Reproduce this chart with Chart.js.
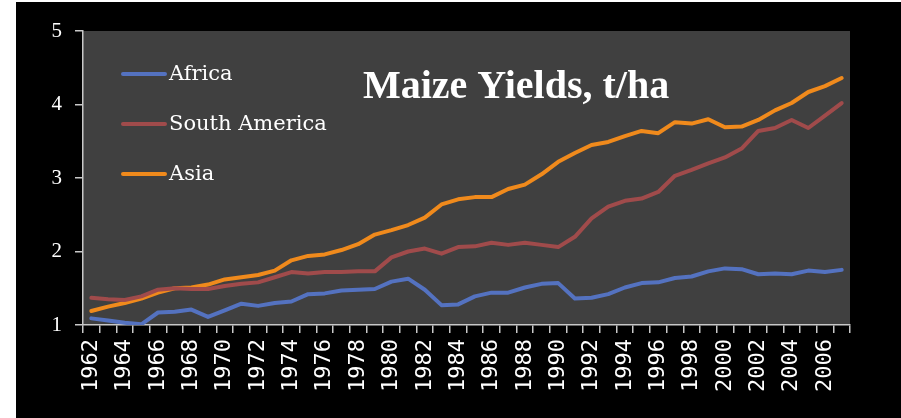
<!DOCTYPE html>
<html>
<head>
<meta charset="utf-8">
<script src="https://cdn.jsdelivr.net/npm/chart.js@4/dist/chart.umd.min.js"></script>
<style>
    html, body { margin: 0; padding: 0; background: #fff; }
    #wrap { position: absolute; left: 16px; top: 2px; width: 885px; height: 416px; background: #000; }
</style>
</head>
<body>
<div id="wrap"><canvas id="myChart" width="885" height="416"></canvas></div>
<script>
const years = [
    '1962', '1963', '1964', '1965', '1966', '1967', '1968', '1969', '1970', '1971',
    '1972', '1973', '1974', '1975', '1976', '1977', '1978', '1979', '1980', '1981',
    '1982', '1983', '1984', '1985', '1986', '1987', '1988', '1989', '1990', '1991',
    '1992', '1993', '1994', '1995', '1996', '1997', '1998', '1999', '2000', '2001',
    '2002', '2003', '2004', '2005', '2006', '2007'
];

// tick labels shown under the x axis (every other year)
const tickLabels = [
    '1962', '1964', '1966', '1968', '1970', '1972', '1974', '1976', '1978', '1980',
    '1982', '1984', '1986', '1988', '1990', '1992', '1994', '1996', '1998', '2000',
    '2002', '2004', '2006'
];

const africa = [
    1.09, 1.06, 1.03, 1.01, 1.17, 1.18, 1.21, 1.11, 1.20, 1.29,
    1.26, 1.30, 1.32, 1.42, 1.43, 1.47, 1.48, 1.49, 1.59, 1.63,
    1.48, 1.27, 1.28, 1.39, 1.44, 1.44, 1.51, 1.56, 1.57, 1.36,
    1.37, 1.42, 1.51, 1.57, 1.58, 1.64, 1.66, 1.73, 1.77, 1.76,
    1.69, 1.70, 1.69, 1.74, 1.72, 1.75
];

const southAmerica = [
    1.37, 1.35, 1.34, 1.39, 1.48, 1.50, 1.49, 1.49, 1.53, 1.56,
    1.58, 1.65, 1.72, 1.70, 1.72, 1.72, 1.73, 1.73, 1.92, 2.00,
    2.04, 1.97, 2.06, 2.07, 2.12, 2.09, 2.12, 2.09, 2.06, 2.20,
    2.45, 2.61, 2.69, 2.72, 2.81, 3.03, 3.11, 3.20, 3.28, 3.40,
    3.64, 3.68, 3.79, 3.68, 3.85, 4.02
];

const asia = [
    1.19, 1.25, 1.30, 1.36, 1.44, 1.50, 1.51, 1.55, 1.62, 1.65,
    1.68, 1.74, 1.88, 1.94, 1.96, 2.02, 2.10, 2.23, 2.29, 2.36,
    2.46, 2.64, 2.71, 2.74, 2.74, 2.85, 2.91, 3.05, 3.22, 3.34,
    3.45, 3.49, 3.57, 3.64, 3.61, 3.76, 3.74, 3.80, 3.69, 3.70,
    3.79, 3.92, 4.02, 4.17, 4.25, 4.36
];

const chartTitle = 'Maize Yields, t/ha';

// grey plot area, title and the legend drawn inside the plot
const plotDecor = {
    id: 'plotDecor',
    beforeDraw(chart) {
        const { ctx, chartArea } = chart;
        ctx.save();
        ctx.fillStyle = '#404040';
        ctx.fillRect(chartArea.left, chartArea.top, chartArea.right - chartArea.left, chartArea.bottom - chartArea.top);
        ctx.restore();
    },
    afterDraw(chart) {
        const ctx = chart.ctx;
        ctx.save();
        ctx.fillStyle = '#fff';
        ctx.font = 'bold 40px "Liberation Serif"';
        ctx.textAlign = 'center';
        ctx.textBaseline = 'alphabetic';
        ctx.fillText(chartTitle, 500, 96);

        ctx.font = '21px "DejaVu Serif"';
        ctx.textAlign = 'left';
        ctx.textBaseline = 'middle';
        chart.data.datasets.forEach((ds, i) => {
            const y = 72 + i * 50;
            ctx.strokeStyle = ds.borderColor;
            ctx.lineWidth = 4;
            ctx.lineCap = 'round';
            ctx.beginPath();
            ctx.moveTo(107, y);
            ctx.lineTo(149, y);
            ctx.stroke();
            ctx.fillStyle = '#fff';
            ctx.fillText(ds.label, 153, y + 1);
        });
        ctx.restore();
    }
};

const data = {
    labels: years,
    datasets: [
        { label: 'Africa', data: africa, borderColor: '#5472c0' },
        { label: 'South America', data: southAmerica, borderColor: '#a04b4b' },
        { label: 'Asia', data: asia, borderColor: '#f08a1c' }
    ]
};

const config = {
    type: 'line',
    data: data,
    plugins: [plotDecor],
    options: {
        responsive: false,
        animation: false,
        layout: { padding: { top: 29, right: 51, left: 0, bottom: 0 } },
        elements: {
            line: { borderWidth: 4, tension: 0, borderCapStyle: 'round', borderJoinStyle: 'round' },
            point: { radius: 0 }
        },
        scales: {
            x: {
                offset: true,
                afterFit(scale) { scale.height = 93; },
                grid: { offset: true, drawOnChartArea: false, drawTicks: true, tickLength: 8, color: '#c8c8c8', lineWidth: 1.5 },
                border: { color: '#c8c8c8', width: 1.5 },
                ticks: {
                    autoSkip: false,
                    maxRotation: 90,
                    minRotation: 90,
                    padding: 6,
                    color: '#fff',
                    font: { family: 'DejaVu Sans Mono', size: 22 },
                    callback(value) {
                        const lab = this.getLabelForValue(value);
                        return tickLabels.includes(lab) ? lab : '';
                    }
                }
            },
            y: {
                min: 1,
                max: 5,
                afterFit(scale) { scale.width = 67; },
                grid: { drawOnChartArea: false, drawTicks: true, tickLength: 8, color: '#c8c8c8', lineWidth: 1.5 },
                border: { color: '#c8c8c8', width: 1.5 },
                ticks: {
                    stepSize: 1,
                    padding: 13,
                    color: '#fff',
                    font: { family: '"Liberation Serif"', size: 21 }
                }
            }
        },
        plugins: {
            legend: { display: false },
            tooltip: { enabled: false }
        }
    }
};

const myChart = new Chart(
    document.getElementById('myChart'),
    config
);
</script>
</body>
</html>
